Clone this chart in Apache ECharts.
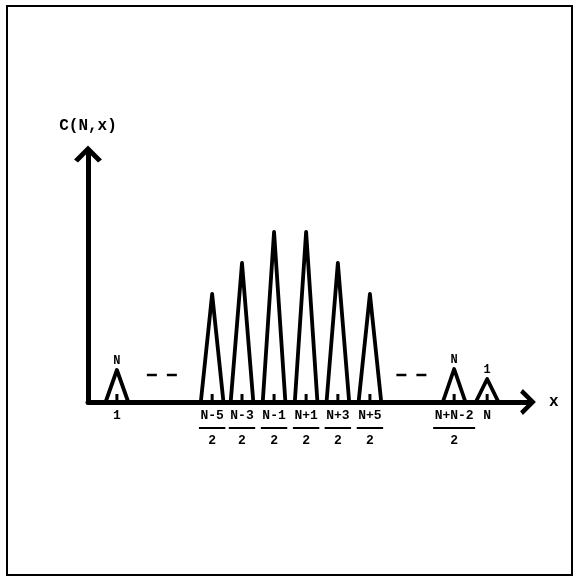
<!DOCTYPE html>
<html>
<head>
<meta charset="utf-8">
<script src="https://cdn.jsdelivr.net/npm/echarts@6/dist/echarts.min.js"></script>
<style>
  html, body { margin: 0; padding: 0; background: #fff; }
  #chart { width: 574px; height: 576px; }
</style>
</head>
<body>
<div id="chart"></div>
<script>
// ---- data ----
const peakX = [0.92, 3.95, 4.9, 5.92, 6.94, 7.95, 8.97, 11.65, 12.7];
const peakH = [32, 108, 139, 170, 170, 139, 108, 33, 23];
const topLabels = ['N', '', '', '', '', '', '', 'N', '1'];
const numLabels = ['1', 'N-5', 'N-3', 'N-1', 'N+1', 'N+3', 'N+5', 'N+N-2', 'N'];
const denLabels = ['', '2', '2', '2', '2', '2', '2', '2', ''];
const gapX = [2.35, 10.29];
const gapH = [27, 27];
const yName = 'C(N,x)';
const xName = 'x';

// ---- styles ----
const HALF_W = 0.36;
const FONT = '"Liberation Mono", "DejaVu Sans Mono", monospace';
const arrowPath = 'path://M0,14 L14,0 L28,14 L24,17 L15.8,8.8 L15.8,17 L12.2,17 L12.2,8.8 L4,17 Z';

const chart = echarts.init(document.getElementById('chart'));

chart.setOption({
  backgroundColor: '#fff',
  animation: false,
  grid: { left: 88, right: 46, top: 154, bottom: 174, containLabel: false },
  graphic: [{
    type: 'rect',
    shape: { x: 7, y: 6, width: 565, height: 569 },
    style: { fill: 'none', stroke: '#000', lineWidth: 2 },
    silent: true
  }],
  xAxis: {
    type: 'value', min: 0, max: 14,
    name: xName, nameLocation: 'end', nameGap: 21,
    nameTextStyle: { fontFamily: FONT, fontWeight: 'bold', fontSize: 16, color: '#000' },
    axisLine: { show: true, onZero: false, symbol: ['none', arrowPath], symbolSize: [26, 16],
      lineStyle: { color: '#000', width: 5 } },
    axisTick: { show: false }, axisLabel: { show: false }, splitLine: { show: false }
  },
  yAxis: {
    type: 'value', min: 0, max: 248,
    name: yName, nameLocation: 'end', nameGap: 20,
    nameTextStyle: { fontFamily: FONT, fontWeight: 'bold', fontSize: 16, color: '#000' },
    axisLine: { show: true, onZero: false, symbol: ['none', arrowPath], symbolSize: [28, 17],
      lineStyle: { color: '#000', width: 5 } },
    axisTick: { show: false }, axisLabel: { show: false }, splitLine: { show: false }
  },
  series: [
    {
      type: 'custom',
      clip: false,
      data: peakX.map((x, i) => [x, peakH[i]]),
      encode: { x: 0, y: 1 },
      renderItem: function (params, api) {
        const i = params.dataIndex;
        const x = api.value(0), h = api.value(1);
        const pL = api.coord([x - HALF_W, 0]);
        const pT = api.coord([x, h]);
        const pR = api.coord([x + HALF_W, 0]);
        const pB = api.coord([x, 0]);
        const children = [
          { type: 'polyline', shape: { points: [pL, pT, pR] },
            style: { stroke: '#000', lineWidth: 3.8, fill: null, lineJoin: 'round' } },
          { type: 'line', shape: { x1: pB[0], y1: pB[1], x2: pB[0], y2: pB[1] - 8 },
            style: { stroke: '#000', lineWidth: 3 } }
        ];
        if (topLabels[i]) {
          children.push({ type: 'text', style: { text: topLabels[i], x: pT[0], y: pT[1] - 3,
            align: 'center', verticalAlign: 'bottom', font: 'bold 12px ' + FONT, fill: '#000' } });
        }
        children.push({ type: 'text', style: { text: numLabels[i], x: pB[0], y: pB[1] + 14,
          align: 'center', verticalAlign: 'middle', font: 'bold 13px ' + FONT, fill: '#000' } });
        if (denLabels[i]) {
          const w = numLabels[i].length * 7.8 + 3;
          children.push({ type: 'line', shape: { x1: pB[0] - w / 2, y1: pB[1] + 26, x2: pB[0] + w / 2, y2: pB[1] + 26 },
            style: { stroke: '#000', lineWidth: 2 } });
          children.push({ type: 'text', style: { text: denLabels[i], x: pB[0], y: pB[1] + 39,
            align: 'center', verticalAlign: 'middle', font: 'bold 13px ' + FONT, fill: '#000' } });
        }
        return { type: 'group', children: children };
      }
    },
    {
      type: 'custom',
      clip: false,
      data: gapX.map((x, i) => [x, gapH[i]]),
      encode: { x: 0, y: 1 },
      renderItem: function (params, api) {
        const c = api.coord([api.value(0), api.value(1)]);
        return { type: 'group', children: [
          { type: 'line', shape: { x1: c[0] - 15, y1: c[1], x2: c[0] - 5, y2: c[1] }, style: { stroke: '#000', lineWidth: 2.5 } },
          { type: 'line', shape: { x1: c[0] + 5, y1: c[1], x2: c[0] + 15, y2: c[1] }, style: { stroke: '#000', lineWidth: 2.5 } }
        ] };
      }
    }
  ]
});
</script>
</body>
</html>
